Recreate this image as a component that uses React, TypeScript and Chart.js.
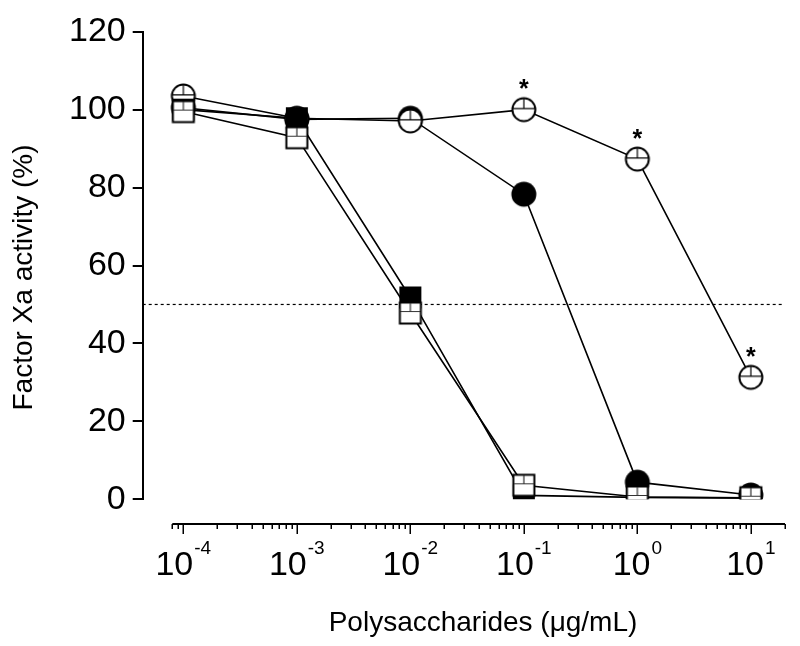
import React, { useEffect, useRef } from "react";
import { Chart, registerables } from "chart.js";

Chart.register(...registerables);

// ---- data ----
const concentrations = [1e-4, 1e-3, 1e-2, 1e-1, 1, 10]; // µg/mL
const openCircleValues = [103.5, 97.8, 97.1, 100, 87.3, 31.3];
const filledCircleValues = [100.5, 97.5, 97.8, 78.3, 4.4, 1.1];
const filledSquareValues = [100, 97.8, 51.8, 1.0, 0.5, 0.3];
const openSquareValues = [99.5, 92.8, 47.8, 3.6, 0.6, 0.4];
const openCircleSignificant = [false, false, false, true, true, true];
const xTickExponents = [-4, -3, -2, -1, 0, 1];
const yTickStep = 20;
const yMin = 0;
const yMax = 120;
const halfActivityLevel = 50;
const halfActivityLineEnd = 19.2;
const xAxisFrom = 8e-5;
const xAxisTo = 20;
const xScaleMin = 4.387e-5;
const xScaleMax = 20;
const yTitle = "Factor Xa activity (%)";
const xTitle = "Polysaccharides (\u03bcg/mL)";

const FONT = "'Liberation Sans', Arial, Helvetica, sans-serif";

function makeMarker(kind: string): HTMLCanvasElement {
  const c = document.createElement("canvas");
  c.width = 30;
  c.height = 30;
  const g = c.getContext("2d")!;
  const m = 15;
  g.strokeStyle = "#000";
  g.fillStyle = "#000";
  if (kind === "filledCircle") {
    g.beginPath();
    g.arc(m, m, 12.5, 0, Math.PI * 2);
    g.fill();
  } else if (kind === "filledSquare") {
    g.fillRect(m - 11, m - 11, 22, 22);
  } else if (kind === "openCircle") {
    g.beginPath();
    g.arc(m, m, 11.5, 0, Math.PI * 2);
    g.fillStyle = "#fff";
    g.fill();
    g.lineWidth = 2;
    g.stroke();
    g.lineWidth = 1.2;
    const hy = m - 1.2;
    const half = Math.sqrt(11 * 11 - 1.2 * 1.2);
    g.beginPath();
    g.moveTo(m - half, hy);
    g.lineTo(m + half, hy);
    g.moveTo(m, m - 11);
    g.lineTo(m, hy);
    g.stroke();
  } else {
    g.fillStyle = "#fff";
    g.fillRect(m - 10.5, m - 10.5, 21, 21);
    g.lineWidth = 2;
    g.strokeRect(m - 10.5, m - 10.5, 21, 21);
    g.lineWidth = 1.2;
    g.strokeStyle = "#333";
    const hy = m - 1.5;
    g.beginPath();
    g.moveTo(m - 10, hy);
    g.lineTo(m + 10, hy);
    g.moveTo(m, m - 10);
    g.lineTo(m, hy);
    g.stroke();
  }
  return c;
}

const toPoints = (vals: number[]) => concentrations.map((c, i) => ({ x: c, y: vals[i] }));

const overlayPlugin = {
  id: "overlay",
  afterDraw(chart: any) {
    const ctx = chart.ctx as CanvasRenderingContext2D;
    const xs = chart.scales.x;
    const ys = chart.scales.y;
    ctx.save();
    ctx.strokeStyle = "#000";
    ctx.fillStyle = "#000";

    // detached x axis
    const axisY = Math.round(ys.getPixelForValue(yMin) + 24.7);
    const x0 = xs.getPixelForValue(xAxisFrom);
    const x1 = xs.getPixelForValue(xAxisTo);
    ctx.lineWidth = 2;
    ctx.beginPath();
    ctx.moveTo(x0, axisY);
    ctx.lineTo(x1, axisY);
    ctx.stroke();
    ctx.lineWidth = 1.5;
    ctx.beginPath();
    for (let e = -5; e <= 1; e++) {
      for (let mlt = 1; mlt <= 9; mlt++) {
        const v = mlt * Math.pow(10, e);
        if (v < xAxisFrom * 0.999 || v > xAxisTo * 1.001) continue;
        const px = Math.round(xs.getPixelForValue(v)) + 0.25;
        const len = mlt === 1 ? 10 : 5;
        ctx.moveTo(px, axisY);
        ctx.lineTo(px, axisY + len);
      }
    }
    ctx.stroke();

    // tick labels 10^n
    ctx.textBaseline = "alphabetic";
    ctx.textAlign = "left";
    for (const e of xTickExponents) {
      const px = xs.getPixelForValue(Math.pow(10, e));
      ctx.font = `34px ${FONT}`;
      const w1 = ctx.measureText("10").width;
      ctx.font = `19px ${FONT}`;
      const sup = String(e);
      const w2 = ctx.measureText(sup).width;
      const total = w1 + 1 + w2;
      const start = px - total / 2;
      ctx.font = `34px ${FONT}`;
      ctx.fillText("10", start, axisY + 51);
      ctx.font = `19px ${FONT}`;
      ctx.fillText(sup, start + w1 + 1, axisY + 29.5);
    }

    // axis titles
    ctx.font = `28px ${FONT}`;
    ctx.textAlign = "center";
    ctx.fillText(xTitle, 483, 631);
    ctx.save();
    ctx.translate(32, 277.5);
    ctx.rotate(-Math.PI / 2);
    ctx.fillText(yTitle, 0, 0);
    ctx.restore();

    // significance asterisks
    ctx.font = `bold 25px ${FONT}`;
    concentrations.forEach((c, i) => {
      if (!openCircleSignificant[i]) return;
      const px = xs.getPixelForValue(c);
      const py = ys.getPixelForValue(openCircleValues[i]);
      ctx.fillText("*", px, py - 12.5);
    });
    ctx.restore();
  },
};

export default function App() {
  const ref = useRef<HTMLCanvasElement>(null);
  useEffect(() => {
    if (!ref.current) return;
    const pointClip = { left: 40, top: 40, right: 40, bottom: 0 };
    const lineBase = {
      type: "line" as const,
      borderColor: "#000",
      borderWidth: 1.6,
      pointRadius: 0,
      tension: 0,
      fill: false,
      order: 10,
      clip: { left: 40, top: 40, right: 40, bottom: 1 },
    };
    const pointBase = (style: HTMLCanvasElement, order: number) => ({
      type: "line" as const,
      showLine: false,
      pointStyle: style,
      pointRadius: 12,
      borderColor: "#000",
      backgroundColor: "#000",
      order,
      clip: pointClip,
    });
    const chart = new Chart(ref.current, {
      type: "line",
      data: {
        datasets: [
          { ...pointBase(makeMarker("openSquare"), 0), data: toPoints(openSquareValues) },
          { ...pointBase(makeMarker("filledSquare"), 1), data: toPoints(filledSquareValues) },
          { ...pointBase(makeMarker("openCircle"), 2), data: toPoints(openCircleValues) },
          { ...pointBase(makeMarker("filledCircle"), 3), data: toPoints(filledCircleValues) },
          { ...lineBase, data: toPoints(openSquareValues) },
          { ...lineBase, data: toPoints(filledSquareValues) },
          { ...lineBase, data: toPoints(openCircleValues) },
          { ...lineBase, data: toPoints(filledCircleValues) },
          {
            ...lineBase,
            order: 11,
            borderWidth: 1.2,
            borderDash: [3, 3],
            data: [
              { x: xScaleMin, y: halfActivityLevel },
              { x: halfActivityLineEnd, y: halfActivityLevel },
            ],
          },
        ],
      } as any,
      options: {
        responsive: false,
        animation: false,
        devicePixelRatio: 1,
        layout: { padding: { left: 0, top: 31.7, right: 15, bottom: 146.7 } },
        plugins: { legend: { display: false }, tooltip: { enabled: false } },
        scales: {
          x: {
            type: "logarithmic",
            min: xScaleMin,
            max: xScaleMax,
            display: false,
          },
          y: {
            type: "linear",
            min: yMin,
            max: yMax,
            ticks: {
              stepSize: yTickStep,
              color: "#000",
              padding: 7,
              font: { family: FONT, size: 34 },
            },
            grid: {
              display: true,
              drawOnChartArea: false,
              drawTicks: true,
              tickLength: 10,
              color: "#000",
              lineWidth: 2,
            },
            border: { display: true, color: "#000", width: 2 },
            afterFit: (scale: any) => {
              scale.width = 142.7;
            },
          },
        },
      } as any,
      plugins: [overlayPlugin],
    });
    return () => chart.destroy();
  }, []);
  return (
    <div style={{ position: "absolute", left: 0, top: 0, width: 800, height: 646, background: "#fff" }}>
      <canvas ref={ref} width={800} height={646} style={{ display: "block" }} />
    </div>
  );
}
